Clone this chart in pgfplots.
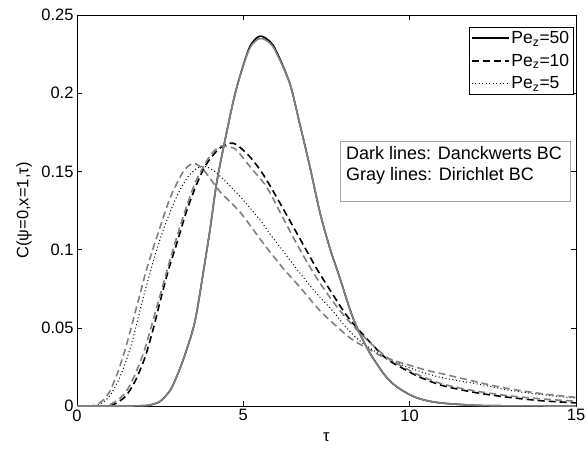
\documentclass[border=0pt]{standalone}
\usepackage{fontspec}
\setmainfont{Liberation Sans}
\usepackage{pgfplots}
\pgfplotsset{compat=1.18}
\definecolor{lgray}{RGB}{128,128,128}
\definecolor{boxgray}{RGB}{165,165,165}
\newcommand{\fs}{\fontsize{16.5}{20}\selectfont}
\newcommand{\fl}{\fontsize{17.5}{21}\selectfont}
\newcommand{\fb}{\fontsize{18}{21}\selectfont}
\begin{document}
\begin{tikzpicture}
\useasboundingbox (-77pt,-49pt) rectangle (511pt,406pt);
\begin{axis}[
  at={(0,0)}, anchor=south west,
  scale only axis, width=499pt, height=391pt,
  xmin=0, xmax=15, ymin=0, ymax=0.25,
  xtick={0,5,10,15}, ytick={0,0.05,0.1,0.15,0.2,0.25},
  tick align=inside, major tick length=5pt,
  axis line style={line width=0.8pt},
  every tick/.style={black, line width=0.6pt},
  tick label style={font=\fs},
  /pgf/number format/assume math mode=true,
  yticklabel style={/pgf/number format/fixed, /pgf/number format/precision=2},
  scaled y ticks=false,
  xlabel={τ}, ylabel={C(ψ=0,x=1,τ)},
  label style={font=\fs},
  xlabel style={at={(axis description cs:0.5,-0.079)}, anchor=center},
  ylabel style={at={(axis description cs:-0.106,0.5)}, anchor=center, rotate=0},
  legend style={at={(rel axis cs:0.995,0.969)}, anchor=north east, draw=black, line width=0.6pt, fill=white, font=\fl, row sep=5pt, inner sep=2pt},
  legend cell align=left,
  legend image code/.code={\draw[#1] (0pt,0pt) -- (37pt,0pt);},
  every axis plot/.append style={smooth},
]
% Danckwerts BC (dark)
\addplot[black, line width=1.6pt] coordinates {
(0,0) (1.5,0) (2.0,0.0002) (2.2,0.0007) (2.5,0.003) (2.8,0.010) (3.0,0.019) (3.2,0.030) (3.46,0.047) (3.6,0.060) (3.8,0.086) (4.0,0.113) (4.2,0.143) (4.45,0.170) (4.7,0.195) (4.9,0.211) (5.2,0.230) (5.5,0.2365) (5.8,0.233) (6.0,0.2265) (6.4,0.206) (6.7,0.180) (7.0,0.153) (7.3,0.124) (7.6,0.101) (7.9,0.082) (8.2,0.062) (8.44,0.049) (8.8,0.034) (9.26,0.0195) (9.6,0.0125) (10.07,0.0065) (10.5,0.0035) (11,0.0018) (12,0.0004) (13,0.0001) (15,0)};
\addlegendentry{Pe\textsubscript{z}=50}
\addplot[black, line width=1.6pt, dash pattern=on 7pt off 4pt] coordinates {
(0,0) (0.8,0) (1.1,0.001) (1.45,0.006) (1.75,0.016) (2.05,0.0315) (2.3,0.050) (2.5,0.067) (2.75,0.087) (3.0,0.104) (3.3,0.125) (3.6,0.142) (3.9,0.155) (4.3,0.165) (4.7,0.168) (5.1,0.1615) (5.4,0.154) (5.7,0.1445) (6.2,0.126) (6.7,0.107) (7.2,0.088) (7.7,0.071) (8.1,0.058) (8.54,0.047) (9.26,0.031) (9.8,0.024) (10.3,0.0185) (11,0.013) (12,0.0085) (13,0.0055) (14,0.0033) (15,0.002)};
\addlegendentry{Pe\textsubscript{z}=10}
\addplot[black, line width=1pt, dash pattern=on 1pt off 2.5pt] coordinates {
(0,0) (0.5,0) (0.75,0.002) (1.0,0.007) (1.3,0.019) (1.6,0.037) (1.8,0.053) (2.0,0.070) (2.3,0.093) (2.6,0.113) (3.0,0.134) (3.35,0.147) (3.7,0.153) (4.0,0.152) (4.3,0.147) (4.9,0.134) (5.5,0.119) (5.8,0.110) (6.2,0.099) (6.7,0.085) (7.2,0.072) (7.72,0.060) (8.1,0.050) (8.54,0.041) (9.26,0.031) (9.8,0.026) (10.4,0.0215) (11,0.018) (12.2,0.0135) (13,0.010) (14,0.0072) (15,0.005)};
\addlegendentry{Pe\textsubscript{z}=5}
% Dirichlet BC (gray)
\addplot[lgray, line width=1.6pt, forget plot] coordinates {
(0,0) (1.5,0) (2.0,0.0002) (2.2,0.0007) (2.5,0.003) (2.8,0.010) (3.0,0.019) (3.2,0.030) (3.46,0.047) (3.6,0.060) (3.8,0.086) (4.0,0.113) (4.2,0.143) (4.45,0.170) (4.7,0.195) (4.9,0.211) (5.2,0.229) (5.5,0.235) (5.8,0.232) (6.0,0.2255) (6.4,0.206) (6.7,0.180) (7.0,0.153) (7.3,0.124) (7.6,0.101) (7.9,0.082) (8.2,0.062) (8.44,0.049) (8.8,0.034) (9.26,0.0195) (9.6,0.0125) (10.07,0.0065) (10.5,0.0035) (11,0.0018) (12,0.0004) (13,0.0001) (15,0)};
\addplot[lgray, line width=1.6pt, dash pattern=on 7pt off 4pt, forget plot] coordinates {
(0,0) (0.7,0) (1.0,0.001) (1.4,0.007) (1.7,0.018) (2.0,0.034) (2.25,0.052) (2.5,0.071) (2.75,0.090) (3.0,0.108) (3.3,0.128) (3.6,0.145) (4.0,0.160) (4.3,0.166) (4.6,0.1655) (4.8,0.1635) (5.2,0.153) (5.7,0.140) (6.2,0.120) (6.7,0.100) (7.2,0.082) (7.72,0.066) (8.1,0.056) (8.54,0.046) (9.26,0.032) (9.8,0.025) (10.3,0.0195) (11,0.014) (12,0.0095) (13,0.0065) (14,0.0045) (15,0.003)};
\addplot[lgray, line width=1.6pt, dash pattern=on 7pt off 4pt, forget plot] coordinates {
(0,0) (0.4,0) (0.6,0.001) (0.8,0.004) (1.0,0.010) (1.25,0.023) (1.5,0.040) (1.7,0.056) (1.9,0.072) (2.1,0.088) (2.4,0.108) (2.8,0.133) (3.2,0.150) (3.5,0.155) (3.8,0.151) (4.3,0.137) (4.9,0.124) (5.6,0.104) (6.2,0.088) (6.7,0.076) (7.3,0.061) (7.8,0.051) (8.24,0.043) (8.8,0.036) (9.26,0.031) (10.4,0.0235) (11,0.0205) (12.2,0.0145) (13,0.011) (14,0.0078) (15,0.0055)};
\draw[boxgray, line width=0.6pt, fill=white] (rel axis cs:0.527,0.5225) rectangle (rel axis cs:0.988,0.676);
\node[anchor=north west, align=left, font=\fb, inner xsep=6pt, inner ysep=5pt] at (rel axis cs:0.527,0.676) {Dark lines: Danckwerts BC\\Gray lines: Dirichlet BC};
\end{axis}
\end{tikzpicture}
\end{document}
